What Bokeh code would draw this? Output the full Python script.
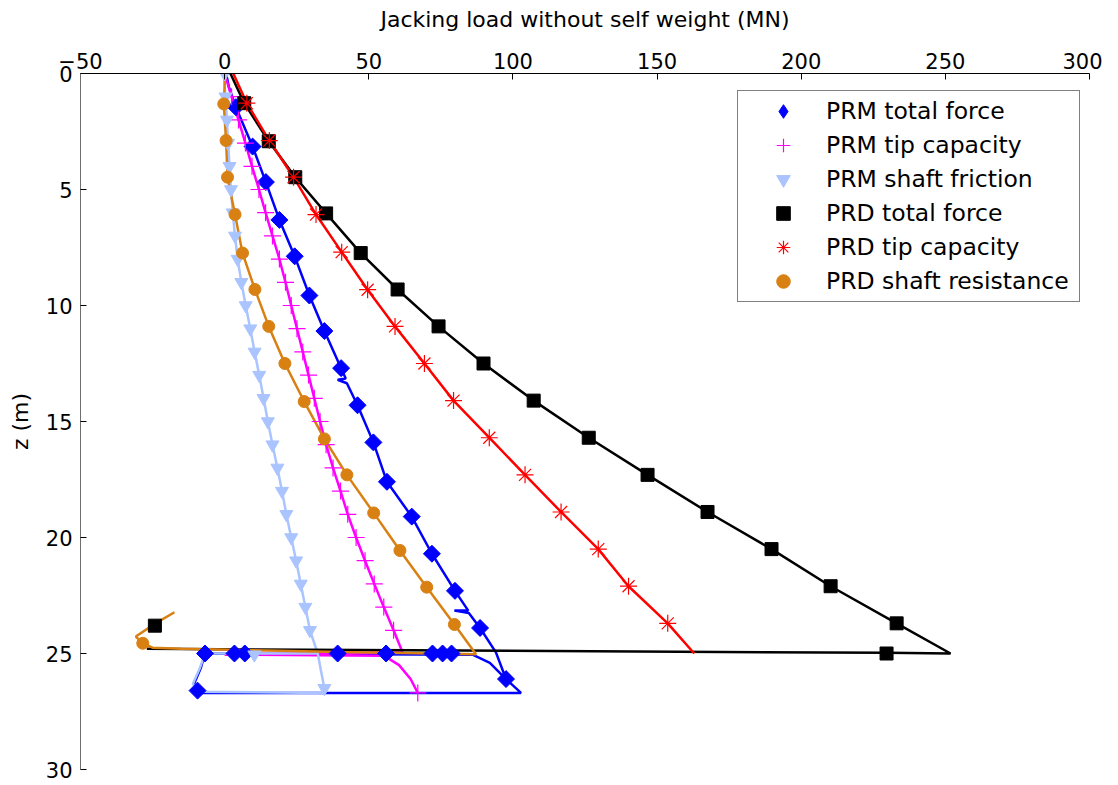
from bokeh.plotting import figure
from bokeh.models import Range1d, FixedTicker, Legend, LegendItem
from bokeh.embed import file_html
from bokeh.resources import INLINE

x_ticks = [-50, 0, 50, 100, 150, 200, 250, 300]
z_ticks = [0, 5, 10, 15, 20, 25, 30]

# PRM total force (line path and markers)
prm_total_line_x = [0.5, 1.5, 3.9, 9.7, 14.3, 19.0, 24.3, 29.4, 34.6, 40.4, 42.0, 39.2, 42.4, 46.1, 51.6, 56.3, 64.9, 71.9, 79.9, 84.5, 79.7, 84.7, 88.6, 94.1, 97.6, 102.8, -8.0, -9.4, -10.6, -8.2, -6.8, 86.0, 92.0, 97.6]
prm_total_line_z = [0.0, 0.6, 1.45, 3.15, 4.68, 6.31, 7.88, 9.57, 11.1, 12.7, 13.15, 13.2, 13.35, 14.3, 15.9, 17.6, 19.1, 20.7, 22.3, 23.15, 23.15, 23.25, 23.9, 24.95, 26.1, 26.7, 26.7, 26.6, 26.3, 25.6, 25.0, 25.05, 25.4, 26.1]
prm_total_x = [3.9, 9.7, 14.3, 19.0, 24.3, 29.4, 34.6, 40.4, 46.1, 51.6, 56.3, 64.9, 71.9, 79.9, 88.6, 97.6, -9.4, -6.8, 3.4, 7.0, 39.2, 56.0, 72.1, 75.6, 78.7]
prm_total_z = [1.45, 3.15, 4.68, 6.31, 7.88, 9.57, 11.1, 12.7, 14.3, 15.9, 17.6, 19.1, 20.7, 22.3, 23.9, 26.1, 26.6, 25.0, 25.0, 25.0, 25.0, 25.0, 25.0, 25.0, 25.0]

# PRM tip capacity
prm_tip_line_x = [0.0, 2.4, 4.8, 7.2, 9.5, 11.9, 14.2, 16.6, 19.0, 21.1, 23.1, 25.1, 27.1, 29.1, 31.1, 33.1, 35.2, 37.6, 40.2, 42.7, 45.6, 48.7, 51.9, 55.2, 58.6, 61.7, 0.0, 55.4, 60.5, 64.5, 67.0]
prm_tip_line_z = [0.0, 1, 2, 3, 4, 5, 6, 7, 8, 9, 10, 11, 12, 13, 14, 15, 16, 17, 18, 19, 20, 21, 22, 23, 24, 24.95, 25.05, 25.1, 25.5, 26.1, 26.7]
prm_tip_x = [2.4, 4.8, 7.2, 9.5, 11.9, 14.2, 16.6, 19.0, 21.1, 23.1, 25.1, 27.1, 29.1, 31.1, 33.1, 35.2, 37.6, 40.2, 42.7, 45.6, 48.7, 51.9, 55.2, 58.6, 67.0]
prm_tip_z = [1, 2, 3, 4, 5, 6, 7, 8, 9, 10, 11, 12, 13, 14, 15, 16, 17, 18, 19, 20, 21, 22, 23, 24, 26.7]

# PRM shaft friction
prm_shaft_line_x = [-0.3, 0.3, 0.8, 1.2, 1.7, 2.2, 2.8, 3.6, 4.5, 5.8, 7.3, 8.9, 10.4, 12.0, 13.5, 15.0, 16.6, 18.3, 19.9, 21.4, 23.1, 24.8, 26.4, 28.0, 29.6, 32.3, -6.8, -8.5, -11.0, -9.4, 34.8, 34.6, 33.5, 32.3]
prm_shaft_line_z = [0.0, 1, 2, 3, 4, 5, 6, 7, 8, 9, 10, 11, 12, 13, 14, 15, 16, 17, 18, 19, 20, 21, 22, 23, 24, 25.0, 25.0, 25.6, 26.3, 26.65, 26.7, 26.5, 25.8, 25.0]
prm_shaft_x = [0.0, 0.3, 0.8, 1.2, 1.7, 2.2, 2.8, 3.6, 4.5, 5.8, 7.3, 8.9, 10.4, 12.0, 13.5, 15.0, 16.6, 18.3, 19.9, 21.4, 23.1, 24.8, 26.4, 28.0, 29.6, 10.3, 34.6]
prm_shaft_z = [0, 1, 2, 3, 4, 5, 6, 7, 8, 9, 10, 11, 12, 13, 14, 15, 16, 17, 18, 19, 20, 21, 22, 23, 24, 25.05, 26.5]

# PRD total force
prd_total_line_x = [2.0, 6.8, 15.3, 24.5, 35.2, 47.2, 60.0, 74.2, 89.8, 107.2, 126.3, 146.7, 167.5, 189.7, 210.2, 233.1, 251.8, 229.6, -27.0]
prd_total_line_z = [0.0, 1.28, 2.92, 4.47, 6.03, 7.74, 9.31, 10.9, 12.5, 14.1, 15.7, 17.3, 18.9, 20.5, 22.1, 23.7, 25.0, 24.97, 24.8]
prd_total_x = [6.8, 15.3, 24.5, 35.2, 47.2, 60.0, 74.2, 89.8, 107.2, 126.3, 146.7, 167.5, 189.7, 210.2, 233.1, 229.6, -24.2]
prd_total_z = [1.28, 2.92, 4.47, 6.03, 7.74, 9.31, 10.9, 12.5, 14.1, 15.7, 17.3, 18.9, 20.5, 22.1, 23.7, 25.0, 23.8]

# PRD tip capacity
prd_tip_line_x = [3.0, 7.7, 15.5, 23.9, 31.7, 40.6, 49.6, 59.1, 69.3, 79.4, 91.8, 104.2, 116.7, 129.6, 140.1, 153.7, 162.9]
prd_tip_line_z = [0.0, 1.28, 2.89, 4.47, 6.08, 7.70, 9.32, 10.9, 12.5, 14.1, 15.7, 17.3, 18.9, 20.5, 22.1, 23.7, 25.0]
prd_tip_x = [7.7, 15.5, 23.9, 31.7, 40.6, 49.6, 59.1, 69.3, 79.4, 91.8, 104.2, 116.7, 129.6, 140.1, 153.7]
prd_tip_z = [1.28, 2.89, 4.47, 6.08, 7.70, 9.32, 10.9, 12.5, 14.1, 15.7, 17.3, 18.9, 20.5, 22.1, 23.7]

# PRD shaft resistance
prd_shaft_line_x = [0.2, -0.3, 0.5, 1.0, 3.6, 6.2, 10.5, 15.3, 20.9, 27.6, 34.6, 42.4, 51.7, 60.8, 70.1, 79.7, 87.2, 40.0, -15.0, -25.0, -28.4, -30.8, -24.0, -17.4]
prd_shaft_line_z = [0.0, 1.31, 2.89, 4.47, 6.08, 7.74, 9.31, 10.9, 12.5, 14.14, 15.75, 17.3, 18.94, 20.56, 22.14, 23.75, 25.03, 24.93, 24.8, 24.75, 24.56, 24.27, 23.7, 23.22]
prd_shaft_x = [-0.3, 0.5, 1.0, 3.6, 6.2, 10.5, 15.3, 20.9, 27.6, 34.6, 42.4, 51.7, 60.8, 70.1, 79.7, -28.4]
prd_shaft_z = [1.31, 2.89, 4.47, 6.08, 7.74, 9.31, 10.9, 12.5, 14.14, 15.75, 17.3, 18.94, 20.56, 22.14, 23.75, 24.56]

labels = ["PRM total force", "PRM tip capacity", "PRM shaft friction",
          "PRD total force", "PRD tip capacity", "PRD shaft resistance"]

BLUE = "#0000ff"
MAGENTA = "#ff00ff"
LIGHTBLUE = "#aac4ff"
BLACK = "#000000"
RED = "#ff0000"
ORANGE = "#d98013"
FONT = "DejaVu Sans"
LW = 2.5

p = figure(width=1102, height=781, x_range=Range1d(-50, 300), y_range=Range1d(30, 0),
           x_axis_location="above", output_backend="svg", toolbar_location=None,
           min_border_left=80, min_border_right=13, min_border_top=73, min_border_bottom=12)
p.outline_line_color = None
p.grid.visible = False
p.background_fill_color = "white"
p.border_fill_color = "white"

p.xaxis.ticker = FixedTicker(ticks=x_ticks)
p.yaxis.ticker = FixedTicker(ticks=z_ticks)
p.xaxis.axis_label = "Jacking load without self weight (MN)"
p.yaxis.axis_label = "z (m)"
for ax in (p.xaxis[0], p.yaxis[0]):
    ax.major_tick_in = 6
    ax.major_tick_out = 0
    ax.minor_tick_line_color = None
    ax.major_label_text_font = FONT
    ax.major_label_text_font_size = "21px"
    ax.major_label_text_color = "black"
    ax.axis_label_text_font = FONT
    ax.axis_label_text_font_size = "22px"
    ax.axis_label_text_font_style = "normal"
    ax.axis_label_text_color = "black"
    ax.major_tick_line_color = "black"
p.xaxis.axis_line_color = "black"
p.yaxis.axis_line_color = "#6e6e6e"
p.xaxis.major_label_standoff = 5
p.xaxis.axis_label_standoff = 18
p.yaxis.major_label_standoff = 8
p.yaxis.axis_label_standoff = 10

# lines first
p.line(prm_total_line_x, prm_total_line_z, line_color=BLUE, line_width=LW)
p.line(prm_tip_line_x, prm_tip_line_z, line_color=MAGENTA, line_width=LW)
p.line(prm_shaft_line_x, prm_shaft_line_z, line_color=LIGHTBLUE, line_width=LW)
p.line(prd_total_line_x, prd_total_line_z, line_color=BLACK, line_width=LW)
p.line(prd_tip_line_x, prd_tip_line_z, line_color=RED, line_width=LW)
p.line(prd_shaft_line_x, prd_shaft_line_z, line_color=ORANGE, line_width=LW)

# markers (the diamond glyph is what the legend shows; the rotated square draws the plot marker over it)
r1 = p.scatter(prm_total_x, prm_total_z, marker="diamond", size=15,
               fill_color=BLUE, line_color=BLUE)
p.scatter(prm_total_x, prm_total_z, marker="square", angle=0.785398, size=12,
          fill_color=BLUE, line_color=BLUE)
r2 = p.scatter(prm_tip_x, prm_tip_z, marker="cross", size=17, line_color=MAGENTA, line_width=1.2)
r3 = p.scatter(prm_shaft_x, prm_shaft_z, marker="inverted_triangle", size=13,
               fill_color=LIGHTBLUE, line_color=LIGHTBLUE)
r4 = p.scatter(prd_total_x, prd_total_z, marker="square", size=13, fill_color=BLACK, line_color=BLACK)
r5 = p.scatter(prd_tip_x, prd_tip_z, marker="asterisk", size=17, line_color=RED, line_width=1.2)
r6 = p.scatter(prd_shaft_x, prd_shaft_z, marker="circle", size=12, fill_color=ORANGE, line_color=ORANGE)

items = [LegendItem(label=lab, renderers=[r]) for lab, r in zip(labels, [r1, r2, r3, r4, r5, r6])]
legend = Legend(items=items, location=(657, 467), padding=3, spacing=0, margin=0,
                glyph_width=84, glyph_height=34, label_height=34, label_width=250,
                label_standoff=1, label_text_font=FONT, label_text_font_size="23.5px",
                label_text_color="black",
                border_line_color="black", border_line_width=1, background_fill_alpha=1.0)
p.add_layout(legend, "center")

open("out.html", "w").write(file_html(p, INLINE))
